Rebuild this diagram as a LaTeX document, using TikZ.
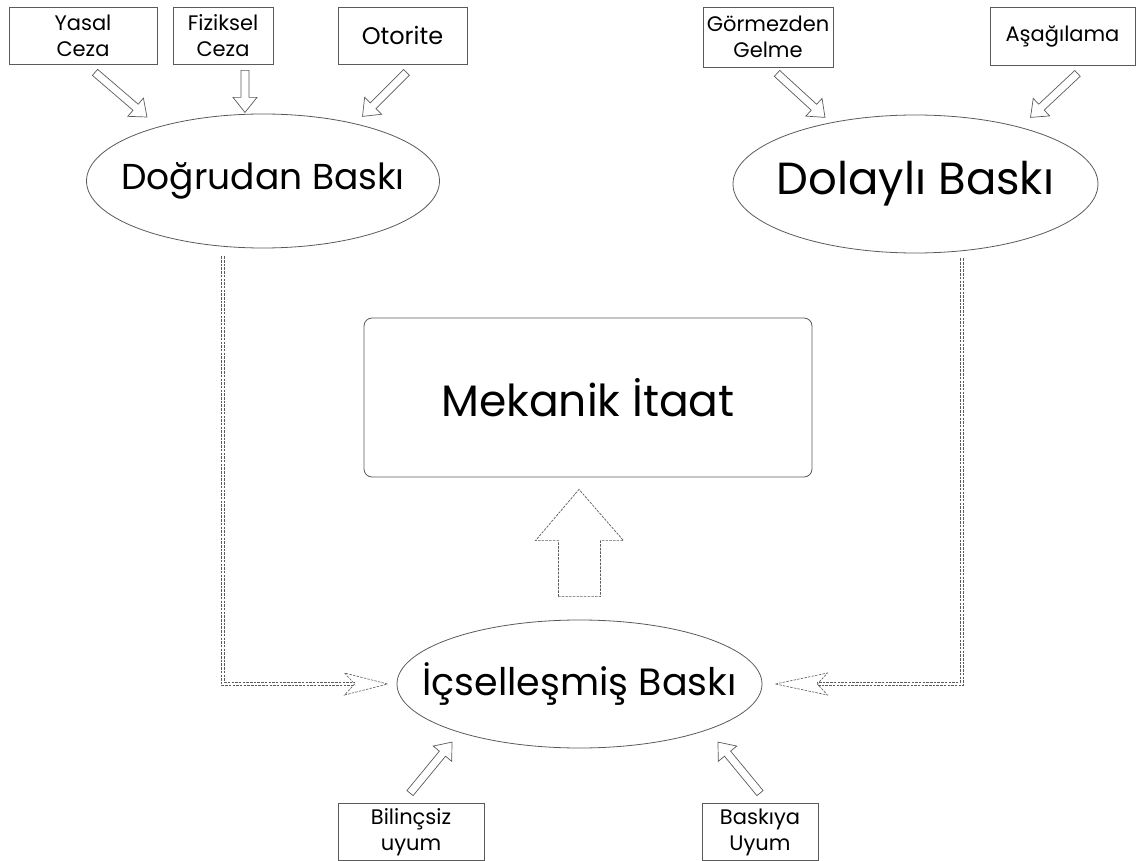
\documentclass[tikz,border=0pt]{standalone}
\usepackage{fontspec}
\setmainfont{Poppins}
\usetikzlibrary{calc,arrows.meta,shapes.geometric}
\definecolor{lc}{HTML}{5A5A5A}
\tikzset{
  boxst/.style={draw=lc, line width=0.8pt, inner sep=0pt, align=center,
    font=\fontsize{21}{26}\selectfont},
  ell/.style={draw=lc, ellipse, line width=0.8pt, inner sep=0pt},
  harr/.style={draw=lc, line width=0.7pt, line join=miter},
  dl/.style={draw=lc, line width=0.6pt, dash pattern=on 2.5pt off 1.2pt},
  dhead/.style={draw=lc, line width=0.6pt, dash pattern=on 2.5pt off 1.2pt, line join=miter},
  bigarr/.style={draw=lc, line width=0.7pt, dash pattern=on 2.5pt off 1.2pt, line join=miter}
}
\newcommand\harrow[2]{%
  \draw[harr] let \p1=(#1), \p2=(#2),
    \n1={atan2(\y2-\y1,\x2-\x1)}, \n2={veclen(\x2-\x1,\y2-\y1)} in
    (\p1) ++(\n1+90:4pt) -- ++(\n1:{\n2-15pt}) -- ++(\n1+90:8pt) -- (\p2)
    -- ++(\n1+218.66:19.21pt) -- ++(\n1+90:8pt) -- ++(\n1+180:{\n2-15pt}) -- cycle;}
\begin{document}
\begin{tikzpicture}[x=1pt,y=-1pt]
\useasboundingbox (0,0) rectangle (1136,861);
% top boxes
\node[boxst, minimum width=148, minimum height=57] (yasal) at (83,35.5) {Yasal\\Ceza};
\node[boxst, minimum width=100, minimum height=57] (fiz) at (223,35.5) {Fiziksel\\Ceza};
\node[boxst, minimum width=129, minimum height=57, font=\fontsize{24}{28}\selectfont] (oto) at (402.5,35.5) {Otorite};
\node[boxst, minimum width=130, minimum height=60] (gorm) at (768,37) {Görmezden\\Gelme};
\node[boxst, minimum width=145, minimum height=58] (asag) at (1062.5,36) {Aşağılama};
% ellipses
\node[ell, minimum width=353, minimum height=134,
  label={[font=\fontsize{36}{40}\selectfont]center:Doğrudan Baskı}] (dog) at (263,181) {};
\node[ell, minimum width=365, minimum height=138,
  label={[font=\fontsize{45}{50}\selectfont]center:Dolaylı Baskı}] (dol) at (915.5,184) {};
\node[ell, minimum width=365, minimum height=128,
  label={[font=\fontsize{38}{42}\selectfont]center:İçselleşmiş Baskı}] (ic) at (579.5,684) {};
% central box
\node[draw=lc, line width=0.8pt, rounded corners=8pt, minimum width=448, minimum height=159,
  inner sep=0pt, font=\fontsize{44}{48}\selectfont] (mek) at (588,397.5) {Mekanik İtaat};
% bottom boxes
\node[boxst, minimum width=146, minimum height=57] (bil) at (411,832) {Bilinçsiz\\uyum};
\node[boxst, minimum width=116, minimum height=57] (bas) at (760,832) {Baskıya\\Uyum};
% hollow arrows
\coordinate (t1) at ($(yasal.south)+(12,8)$);
\coordinate (e1) at ($(dog.center)+(-116,-64)$);
\harrow{t1}{e1}
\coordinate (t2) at ($(fiz.south)+(22,6)$);
\coordinate (e2) at ($(fiz.south)+(22,48)$);
\harrow{t2}{e2}
\coordinate (t3) at ($(oto.south)+(4,8)$);
\coordinate (e3) at ($(oto.south)+(-40,52)$);
\harrow{t3}{e3}
\coordinate (t4) at ($(gorm.south)+(9,6)$);
\coordinate (e4) at ($(gorm.south)+(57,50)$);
\harrow{t4}{e4}
\coordinate (t5) at ($(asag.south)+(15,8)$);
\coordinate (e5) at ($(asag.south)+(-32,52)$);
\harrow{t5}{e5}
\coordinate (t6) at ($(bil.north)+(-1,-10)$);
\coordinate (e6) at ($(bil.north)+(41,-61)$);
\harrow{t6}{e6}
\coordinate (t7) at ($(bas.north)+(0,-10)$);
\coordinate (e7) at ($(bas.north)+(-42,-61)$);
\harrow{t7}{e7}
% dashed connectors (double dashed lines)
\coordinate (ls) at ($(dog.south)+(-40,8)$);
\coordinate (lb) at ($(ic.west)+(-42,0)$);
\draw[dl] ($(ls)+(-1.6,0)$) |- ($(lb)+(0,1.6)$);
\draw[dl] ($(ls)+(1.6,0)$) |- ($(lb)+(0,-1.6)$);
\draw[dhead] ($(ic.west)+(-9,0)$) -- ($(ic.west)+(-52,-11)$) -- (lb) -- ($(ic.west)+(-52,11)$) -- cycle;
\coordinate (rs) at ($(dol.south)+(46,5)$);
\coordinate (rb) at ($(ic.east)+(55,0)$);
\draw[dl] ($(rs)+(1.6,0)$) |- ($(rb)+(0,1.6)$);
\draw[dl] ($(rs)+(-1.6,0)$) |- ($(rb)+(0,-1.6)$);
\draw[dhead] ($(ic.east)+(13,0)$) -- ($(ic.east)+(65,-11)$) -- (rb) -- ($(ic.east)+(65,11)$) -- cycle;
% big arrow
\draw[bigarr] ($(ic.north)+(-21,-23)$) -- ($(ic.north)+(-21,-79)$) -- ($(ic.north)+(-44,-79)$)
  -- ($(mek.south)+(-9,12)$) -- ($(ic.north)+(44,-79)$) -- ($(ic.north)+(21,-79)$)
  -- ($(ic.north)+(21,-23)$) -- cycle;
\end{tikzpicture}
\end{document}
